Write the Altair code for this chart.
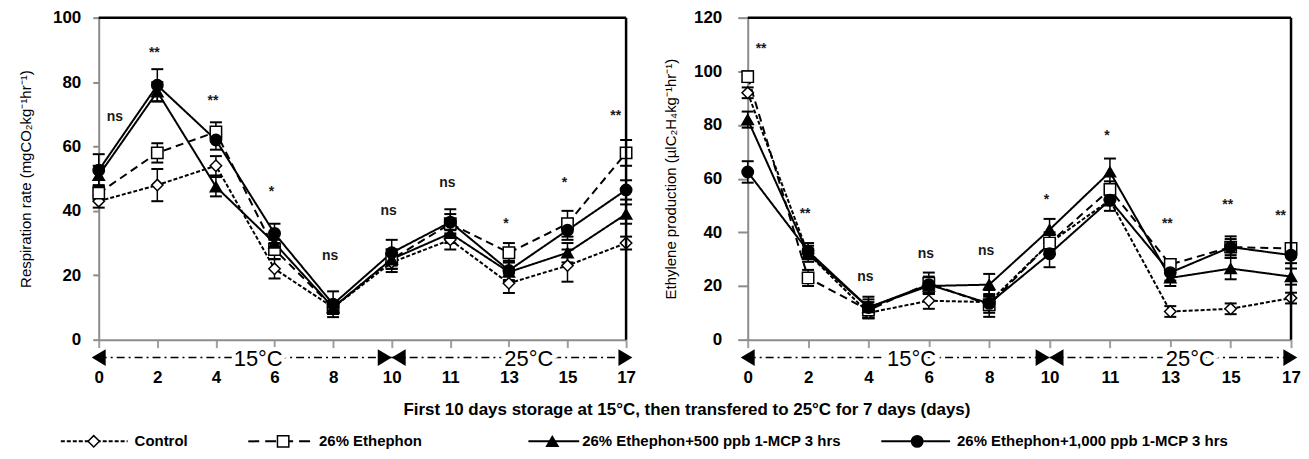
import altair as alt
import pandas as pd

FONT = "Liberation Sans"

# ---------------- data ----------------
days = ["0", "2", "4", "6", "8", "10", "11", "13", "15", "17"]
series = ["Control", "26% Ethephon", "26% Ethephon+500 ppb 1-MCP 3 hrs",
          "26% Ethephon+1,000 ppb 1-MCP 3 hrs"]

# Respiration rate (left panel)
resp_control = [43, 48, 54, 22, 10, 24, 31, 17.5, 23, 30]
resp_eth = [45.5, 58, 64.5, 28, 10, 25, 36, 27, 36, 58]
resp_500 = [51, 77, 47.5, 30, 10, 25, 33, 21, 27, 39]
resp_1000 = [52.6, 79, 62, 33, 11, 27, 36.5, 21.5, 34, 46.5]
resp_control_err = [2, 5, 3, 3, 2, 3, 3, 3, 5, 2]
resp_eth_err = [2, 3, 3, 3, 2, 3, 3, 3, 4, 4]
resp_500_err = [3, 3, 3, 3, 2, 3, 3, 3, 3, 3]
resp_1000_err = [5, 5, 3, 3, 4, 4, 4, 3, 3, 3]
resp_sig = ["ns", "**", "**", "*", "ns", "ns", "ns", "*", "*", "**"]
resp_sig_y = [69, 89, 74, 46, 26, 40, 48.5, 36, 48.5, 69.5]

# Ethylene production (right panel)
eth_control = [92, 32, 10, 14.5, 14, 36, 52, 10.5, 11.5, 15.5]
eth_eth = [98, 23, 11, 21, 13, 36, 56, 28, 34.5, 34]
eth_500 = [82, 32, 12, 20, 20.5, 41, 62.5, 23, 26.5, 23.5]
eth_1000 = [62.5, 33, 12, 20.5, 13.5, 32, 52, 25, 34.5, 31.5]
eth_control_err = [2, 2, 2, 3, 3, 3, 2, 2, 2, 2]
eth_eth_err = [2, 3, 3, 4, 3, 4, 3, 2, 3, 2]
eth_500_err = [3, 3, 3, 3, 4, 4, 5, 3, 4, 3]
eth_1000_err = [4, 3, 4, 3, 5, 5, 4, 3, 4, 3]
eth_sig = ["**", "**", "ns", "ns", "ns", "*", "*", "**", "**", "**"]
eth_sig_y = [108.5, 47, 23.5, 32, 33, 52, 76, 43, 50, 46]

temps = ["15°C", "25°C"]
resp_title = "Respiration rate (mgCO₂kg⁻¹hr⁻¹)"
eth_title = "Ethylene production (µlC₂H₄kg⁻¹hr⁻¹)"
x_title = "First 10 days storage at 15°C, then transfered to 25°C for 7 days (days)"

# ---------------- styles ----------------
H = 323
DASHES = [[4, 2], [8, 5], [1, 0], [1, 0]]
LEG_DASHES = [[4, 2], [11, 6], [1, 0], [1, 0]]
SHAPES = ["diamond", "square", "triangle-up", "circle"]
FILLS = ["white", "white", "black", "black"]
MARK_SIZE = 130
LABEL_EXPR = "[" + ",".join(repr(d) for d in days) + "][datum.value]"
# arrow heads: left-outer, right-inner, left-inner, right-outer
ARROW_PATHS = ["M-0.5,0L0.5,-0.6L0.5,0.6Z", "M0,0L-1,-0.6L-1,0.6Z",
               "M0,0L1,-0.6L1,0.6Z", "M0.45,0L-0.55,-0.6L-0.55,0.6Z"]
ARROW_Y = H + 18
TEMP_Y = H + 19
TEMP_DX = [13, 20]


def make_panel(values, errors, sig_text, sig_y, ymax, ystep, ytitle, width,
               ytick, ylabpad, ytitlepad):
    n = len(days)
    rows = []
    for s, vals, errs in zip(series, values, errors):
        for i, (v, e) in enumerate(zip(vals, errs)):
            rows.append({"series": s, "idx": i, "value": v, "lo": v - e, "hi": v + e})
    df = pd.DataFrame(rows)

    xscale = alt.Scale(domain=[0, n - 1], nice=False, zero=False)
    xaxis = alt.Axis(values=list(range(n)), labelExpr=LABEL_EXPR, title=None, grid=False,
                     domainColor="#8c8c8c", domainWidth=2, tickColor="#a0a0a0",
                     tickSize=8, tickWidth=2, labelFont=FONT, labelFontSize=17,
                     labelFontWeight="bold", labelColor="black", labelPadding=22,
                     labelFlush=False, labelOverlap=False, labelBound=False)
    yscale = alt.Scale(domain=[0, ymax], nice=False, zero=True)
    yaxis = alt.Axis(values=list(range(0, ymax + 1, ystep)), title=ytitle, grid=False,
                     domainColor="#8c8c8c", domainWidth=2, tickColor="#8c8c8c",
                     tickSize=ytick, tickWidth=2, labelFont=FONT, labelFontSize=17,
                     labelFontWeight="bold", labelColor="black", labelPadding=ylabpad,
                     titleFont=FONT, titleFontSize=15, titleFontWeight="normal",
                     titleColor="black", titlePadding=ytitlepad, labelFlush=False)

    def X(f):
        return alt.X(f, scale=xscale, axis=xaxis)

    def Y(f):
        return alt.Y(f, scale=yscale, axis=yaxis)

    base = alt.Chart(df)
    err = base.mark_rule(color="black", strokeWidth=1.5).encode(
        x=X("idx:Q"), y=Y("lo:Q"), y2="hi:Q")
    cap_lo = base.mark_tick(orient="horizontal", size=12, thickness=2, color="black",
                            opacity=1).encode(x=X("idx:Q"), y=Y("lo:Q"))
    cap_hi = base.mark_tick(orient="horizontal", size=12, thickness=2, color="black",
                            opacity=1).encode(x=X("idx:Q"), y=Y("hi:Q"))
    line = base.mark_line(color="black", strokeWidth=2).encode(
        x=X("idx:Q"), y=Y("value:Q"),
        strokeDash=alt.StrokeDash("series:N", scale=alt.Scale(domain=series, range=DASHES),
                                  legend=None))
    pts = base.mark_point(filled=True, stroke="black", strokeWidth=1.5, size=MARK_SIZE,
                          opacity=1, fillOpacity=1).encode(
        x=X("idx:Q"), y=Y("value:Q"),
        shape=alt.Shape("series:N", scale=alt.Scale(domain=series, range=SHAPES), legend=None),
        fill=alt.Fill("series:N", scale=alt.Scale(domain=series, range=FILLS), legend=None))

    sig = pd.DataFrame({"idx": list(range(n)), "y": sig_y, "t": sig_text})

    def sig_layer(sub, align, dx):
        return alt.Chart(sub).mark_text(font=FONT, fontSize=14, fontWeight="bold",
                                        color="#1a1a1a", align=align, dx=dx,
                                        baseline="middle").encode(
            x=X("idx:Q"), y=Y("y:Q"), text="t:N")

    sigs = [sig_layer(sig.iloc[:1], "left", 8), sig_layer(sig.iloc[1:-1], "center", -3),
            sig_layer(sig.iloc[-1:], "right", -5)]

    b1 = days.index("10")
    seg = pd.DataFrame({"s": [0, b1], "e": [b1, n - 1], "label": temps})
    seg["mid"] = (seg["s"] + seg["e"]) / 2
    seg_rule = alt.Chart(seg).mark_rule(color="black", strokeWidth=1.5,
                                        strokeDash=[8, 4, 2, 4]).encode(
        x=X("s:Q"), x2="e:Q", y=alt.value(ARROW_Y))
    arrow_pos = [pd.DataFrame({"idx": [p]}) for p in (0, b1, b1, n - 1)]
    arrows = [alt.Chart(d).mark_point(shape=path, filled=True, color="black", size=784,
                                      opacity=1).encode(x=X("idx:Q"), y=alt.value(ARROW_Y))
              for d, path in zip(arrow_pos, ARROW_PATHS)]
    temp_layers = []
    for k in range(len(temps)):
        sub = alt.Chart(seg.iloc[[k]])
        temp_layers.append(sub.mark_text(font=FONT, fontSize=22, dx=TEMP_DX[k],
                                         baseline="middle", stroke="white", strokeWidth=8,
                                         color="white").encode(
            x=X("mid:Q"), y=alt.value(TEMP_Y), text="label:N"))
        temp_layers.append(sub.mark_text(font=FONT, fontSize=22, dx=TEMP_DX[k],
                                         baseline="middle", color="black").encode(
            x=X("mid:Q"), y=alt.value(TEMP_Y), text="label:N"))

    one = alt.Chart(pd.DataFrame({"k": [0]}))
    top_border = one.mark_rule(color="black", strokeWidth=2.5).encode(
        x=alt.value(0), x2=alt.value(width), y=alt.value(0))
    right_border = one.mark_rule(color="black", strokeWidth=2.5).encode(
        x=alt.value(width), y=alt.value(0), y2=alt.value(H))

    return alt.layer(err, cap_lo, cap_hi, line, pts, *sigs, seg_rule, *temp_layers,
                     *arrows, top_border, right_border).properties(width=width, height=H)


left = make_panel([resp_control, resp_eth, resp_500, resp_1000],
                  [resp_control_err, resp_eth_err, resp_500_err, resp_1000_err],
                  resp_sig, resp_sig_y, 100, 20, resp_title, 529, 6, 12, 19)
right = make_panel([eth_control, eth_eth, eth_500, eth_1000],
                   [eth_control_err, eth_eth_err, eth_500_err, eth_1000_err],
                   eth_sig, eth_sig_y, 120, 20, eth_title, 545, 10, 16, 15)

# ---------------- bottom: axis title + custom legend ----------------
ORIGIN = 98   # bottom chart aligns with the left plot area
LEG_LINE = [(60, 127), (248, 312), (529, 580), (883, 952)]
LEG_MARK = [93, 283, 553, 919]
LEG_TEXT = [134, 319, 583, 959]
LEG_Y = 52
TITLE_Y = 21

leg_df = pd.DataFrame({"series": series})
bottom_layers = [
    alt.Chart(pd.DataFrame({"t": [x_title]})).mark_text(
        font=FONT, fontSize=17, fontWeight="bold", color="black", baseline="middle").encode(
        x=alt.value(688 - ORIGIN), y=alt.value(TITLE_Y), text="t:N")
]
for i in range(len(series)):
    item = alt.Chart(leg_df.iloc[[i]])
    a, b = LEG_LINE[i]
    bottom_layers.append(item.mark_rule(color="black", strokeWidth=2,
                                        strokeDash=LEG_DASHES[i]).encode(
        x=alt.value(a - ORIGIN), x2=alt.value(b - ORIGIN), y=alt.value(LEG_Y)))
    bottom_layers.append(item.mark_point(shape=SHAPES[i], filled=True, fill=FILLS[i],
                                         stroke="black", strokeWidth=1.5, size=MARK_SIZE,
                                         opacity=1, fillOpacity=1).encode(
        x=alt.value(LEG_MARK[i] - ORIGIN), y=alt.value(LEG_Y)))
    bottom_layers.append(item.mark_text(font=FONT, fontSize=15, fontWeight="bold",
                                        color="black", align="left",
                                        baseline="middle").encode(
        x=alt.value(LEG_TEXT[i] - ORIGIN), y=alt.value(LEG_Y), text="series:N"))

bottom = alt.layer(*bottom_layers).properties(width=1195, height=58)

chart = alt.vconcat(
    alt.hconcat(left, right, spacing=27),
    bottom, spacing=4
).properties(
    padding={"left": 10, "top": 0, "right": 0, "bottom": 0}
).configure(font=FONT).configure_view(stroke=None, strokeWidth=0)

chart.save("out.html", embed_options={"renderer": "svg", "actions": False})
